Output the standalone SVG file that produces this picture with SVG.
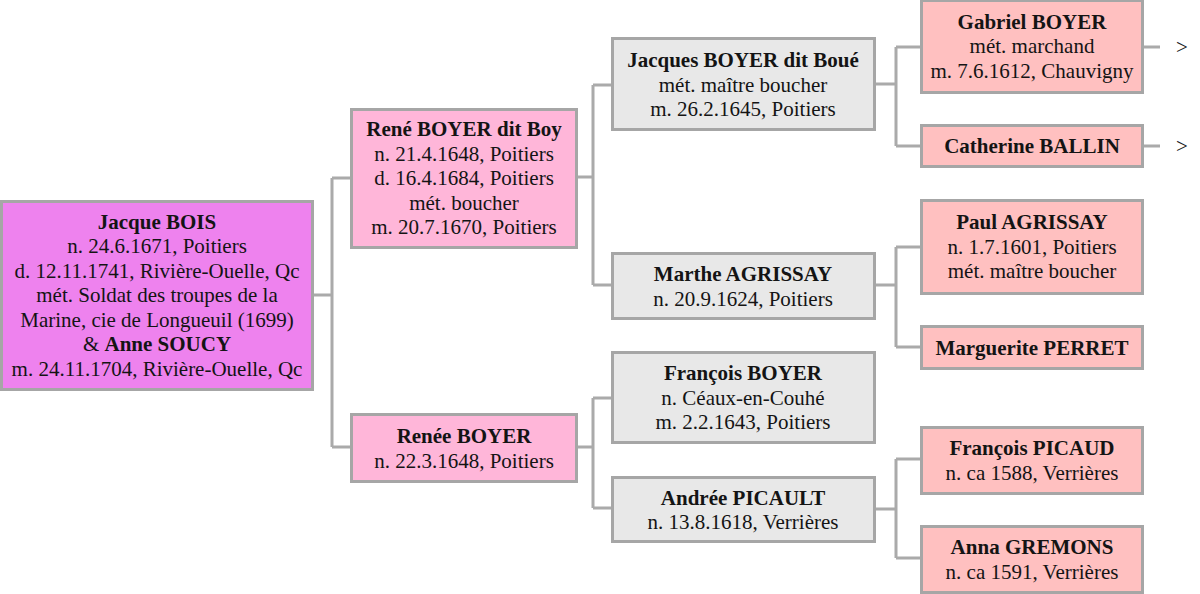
<svg xmlns="http://www.w3.org/2000/svg" width="1200" height="594" viewBox="0 0 1200 594">
<style>
.box{stroke:#a6a6a6;stroke-width:3}
.g1{fill:#ee82ee}
.g2{fill:#ffb6d9}
.g3{fill:#e8e8e8}
.g4{fill:#ffc0c0}
text{font-family:"Liberation Serif","Times New Roman",serif;font-size:21px;fill:#141414;text-anchor:middle}
.b{font-weight:bold}
.conn{fill:none;stroke:#aaaaaa;stroke-width:3}
</style>
<rect width="1200" height="594" fill="#ffffff"/>
<g id="connectors" class="conn">
<path d="M313 295 H332 M332 178 V447 M332 178 H351 M332 447 H351"/>
<path d="M577 177 H593 M593 85 V285 M593 85 H612 M593 285 H612"/>
<path d="M577 447 H593 M593 398 V508 M593 398 H612 M593 508 H612"/>
<path d="M875 84 H896 M896 47 V146 M896 47 H921 M896 146 H921"/>
<path d="M875 285 H896 M896 247 V347 M896 247 H921 M896 347 H921"/>
<path d="M875 509 H896 M896 459 V558 M896 459 H921 M896 558 H921"/>
<path d="M1144 47 H1160 M1144 146 H1160"/>
</g>
<g id="more1"><text x="1182" y="54">&gt;</text></g>
<g id="more2"><text x="1182" y="153">&gt;</text></g>
<g id="n-jacque-bois">
<rect class="box g1" x="1.5" y="201.5" width="311" height="188"/>
<text x="157" y="228.5" class="b">Jacque BOIS</text>
<text x="157" y="253">n. 24.6.1671, Poitiers</text>
<text x="157" y="277.5">d. 12.11.1741, Rivière-Ouelle, Qc</text>
<text x="157" y="302">mét. Soldat des troupes de la</text>
<text x="157" y="326.5">Marine, cie de Longueuil (1699)</text>
<text x="157" y="351">&amp; <tspan class="b">Anne SOUCY</tspan></text>
<text x="157" y="375.5">m. 24.11.1704, Rivière-Ouelle, Qc</text>
</g>
<g id="n-rene-boyer">
<rect class="box g2" x="351.5" y="109.5" width="225" height="138"/>
<text x="464" y="136" class="b">René BOYER dit Boy</text>
<text x="464" y="160.5">n. 21.4.1648, Poitiers</text>
<text x="464" y="185">d. 16.4.1684, Poitiers</text>
<text x="464" y="209.5">mét. boucher</text>
<text x="464" y="234">m. 20.7.1670, Poitiers</text>
</g>
<g id="n-renee-boyer">
<rect class="box g2" x="351.5" y="414.5" width="225" height="67"/>
<text x="464" y="443" class="b">Renée BOYER</text>
<text x="464" y="467.5">n. 22.3.1648, Poitiers</text>
</g>
<g id="n-jacques-boyer">
<rect class="box g3" x="612.5" y="38.5" width="262" height="91"/>
<text x="743" y="67" class="b">Jacques BOYER dit Boué</text>
<text x="743" y="91.5">mét. maître boucher</text>
<text x="743" y="116">m. 26.2.1645, Poitiers</text>
</g>
<g id="n-marthe-agrissay">
<rect class="box g3" x="612.5" y="253.5" width="262" height="65"/>
<text x="743" y="281" class="b">Marthe AGRISSAY</text>
<text x="743" y="305.5">n. 20.9.1624, Poitiers</text>
</g>
<g id="n-francois-boyer">
<rect class="box g3" x="612.5" y="352.5" width="262" height="90"/>
<text x="743" y="380" class="b">François BOYER</text>
<text x="743" y="404.5">n. Céaux-en-Couhé</text>
<text x="743" y="429">m. 2.2.1643, Poitiers</text>
</g>
<g id="n-andree-picault">
<rect class="box g3" x="612.5" y="477.5" width="262" height="64"/>
<text x="743" y="504.5" class="b">Andrée PICAULT</text>
<text x="743" y="529">n. 13.8.1618, Verrières</text>
</g>
<g id="n-gabriel-boyer">
<rect class="box g4" x="921.5" y="0.5" width="221" height="92"/>
<text x="1032" y="28.5" class="b">Gabriel BOYER</text>
<text x="1032" y="53">mét. marchand</text>
<text x="1032" y="77.5">m. 7.6.1612, Chauvigny</text>
</g>
<g id="n-catherine-ballin">
<rect class="box g4" x="921.5" y="125.5" width="221" height="41"/>
<text x="1032" y="153" class="b">Catherine BALLIN</text>
</g>
<g id="n-paul-agrissay">
<rect class="box g4" x="921.5" y="200.5" width="221" height="93"/>
<text x="1032" y="229" class="b">Paul AGRISSAY</text>
<text x="1032" y="253.5">n. 1.7.1601, Poitiers</text>
<text x="1032" y="278">mét. maître boucher</text>
</g>
<g id="n-marguerite-perret">
<rect class="box g4" x="921.5" y="326.5" width="221" height="42"/>
<text x="1032" y="354.5" class="b">Marguerite PERRET</text>
</g>
<g id="n-francois-picaud">
<rect class="box g4" x="921.5" y="427.5" width="221" height="66"/>
<text x="1032" y="455" class="b">François PICAUD</text>
<text x="1032" y="479.5">n. ca 1588, Verrières</text>
</g>
<g id="n-anna-gremons">
<rect class="box g4" x="921.5" y="526.5" width="221" height="66"/>
<text x="1032" y="554" class="b">Anna GREMONS</text>
<text x="1032" y="578.5">n. ca 1591, Verrières</text>
</g>
</svg>
